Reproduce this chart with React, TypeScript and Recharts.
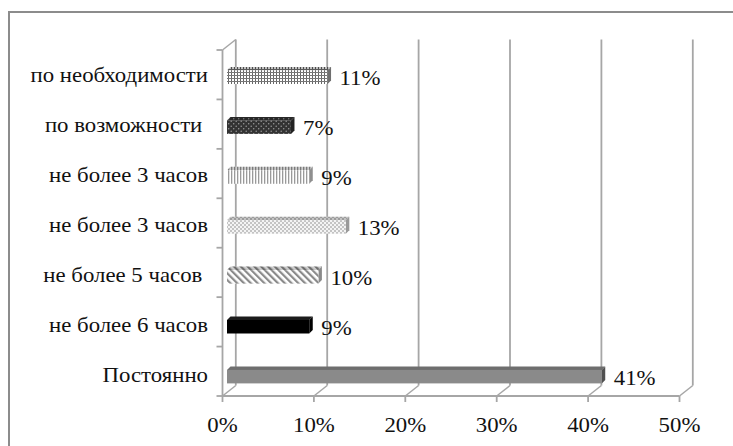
import React from 'react';
import { BarChart, Bar, XAxis, YAxis, CartesianGrid } from 'recharts';

// Answers and their shares, top to bottom
const categories = [
  'по необходимости',
  'по возможности ',
  'не более 3 часов',
  'не более 3 часов',
  'не более 5 часов ',
  'не более 6 часов',
  'Постоянно',
];
const shares = [11, 7, 9, 13, 10, 9, 41];
const xTicks = [0, 10, 20, 30, 40, 50];

const data = categories.map((name, i) => ({ name, share: shares[i] }));

// Layout
const W = 733;
const H = 446;
const PLOT = { left: 227, top: 52.5, width: 457, height: 349.3 };
// front edge of the 3D frame (walls/floor) and depth offset of the back wall
const FRONT = { left: 222.5, top: 50, bottom: 396 };
const DEPTH = { x: 13.3, y: -10.5 };
const FRONT_SHIFT = FRONT.left - PLOT.left;
const BAR_DEPTH = { x: 3.5, y: -3.5 };

const FONT = '"Liberation Serif", "Times New Roman", serif';
const FONT_SIZE = 20;
const STRETCH = 1.14; // glyphs are drawn slightly wide
const TEXT = '#111';
const FRAME = '#a6a6a6';

const barStyles = [
  { front: 'url(#pGrid)', top: 'url(#pGrid)', side: '#6f6f6f', shade: 0.25 },
  { front: 'url(#pDots)', top: 'url(#pDots)', side: '#222', shade: 0.2 },
  { front: 'url(#pVert)', top: 'url(#pVert)', side: '#8f8f8f', shade: 0.2 },
  { front: 'url(#pCheck)', top: 'url(#pCheck)', side: '#9a9a9a', shade: 0.2 },
  { front: 'url(#pDiag)', top: 'url(#pDiag)', side: '#8a8a8a', shade: 0.2 },
  { front: '#000', top: '#1c1c1c', side: '#000', shade: 0 },
  { front: '#8a8a8a', top: '#6e6e6e', side: '#505050', shade: 0 },
];

function Patterns() {
  return (
    <svg width={0} height={0} style={{ position: 'absolute' }}>
      <defs>
        <pattern id="pGrid" width="3" height="3" patternUnits="userSpaceOnUse">
          <rect width="3" height="3" fill="#fff" />
          <rect width="1" height="3" fill="#666" />
          <rect width="3" height="1" fill="#777" />
        </pattern>
        <pattern id="pDots" width="5" height="5" patternUnits="userSpaceOnUse">
          <rect width="5" height="5" fill="#333" />
          <circle cx="1.2" cy="1.2" r="0.75" fill="#9a9a9a" />
          <circle cx="3.7" cy="3.7" r="0.75" fill="#9a9a9a" />
        </pattern>
        <pattern id="pVert" width="3" height="3" patternUnits="userSpaceOnUse">
          <rect width="3" height="3" fill="#fff" />
          <rect width="1.3" height="3" fill="#9a9a9a" />
        </pattern>
        <pattern id="pCheck" width="4" height="4" patternUnits="userSpaceOnUse">
          <rect width="4" height="4" fill="#f4f4f4" />
          <rect width="2" height="2" fill="#c4c4c4" />
          <rect x="2" y="2" width="2" height="2" fill="#c4c4c4" />
        </pattern>
        <pattern id="pDiag" width="4.8" height="4.8" patternUnits="userSpaceOnUse" patternTransform="rotate(-45)">
          <rect width="4.8" height="4.8" fill="#fff" />
          <rect width="2.2" height="4.8" fill="#8a8a8a" />
        </pattern>
      </defs>
    </svg>
  );
}

// Text drawn at (x, y), vertically centred, slightly widened
function Label({ x, y, anchor, children }: any) {
  return (
    <text
      transform={`translate(${x},${y}) scale(${STRETCH},1)`}
      textAnchor={anchor}
      dominantBaseline="central"
      fontFamily={FONT}
      fontSize={FONT_SIZE}
      fill={TEXT}
      style={{ whiteSpace: 'pre' }}
    >
      {children}
    </text>
  );
}

// 3D bar: front face, top face and right side, plus the value label
function Bar3D(props: any) {
  const { x, y, width, height, index, payload } = props;
  const s = barStyles[index];
  const dx = BAR_DEPTH.x;
  const dy = BAR_DEPTH.y;
  const top = `${x},${y} ${x + dx},${y + dy} ${x + width + dx},${y + dy} ${x + width},${y}`;
  const side = `${x + width},${y} ${x + width + dx},${y + dy} ${x + width + dx},${y + height + dy} ${x + width},${y + height}`;
  return (
    <g>
      <polygon points={top} fill={s.top} />
      {s.shade > 0 && <polygon points={top} fill="#000" fillOpacity={s.shade} />}
      <polygon points={side} fill={s.side} />
      <rect x={x} y={y} width={width} height={height} fill={s.front} />
      <Label x={x + width + 12} y={y + height / 2 + 1.5} anchor="start">
        {`${payload.share}%`}
      </Label>
    </g>
  );
}

// back wall vertical lines and floor diagonals
function gridLine(p: any) {
  const fx = p.x1 + FRONT_SHIFT;
  const bx = fx + DEPTH.x;
  return (
    <g key={`g-${p.index}`}>
      <line x1={bx} y1={FRONT.top + DEPTH.y} x2={bx} y2={FRONT.bottom + DEPTH.y} stroke={FRAME} strokeWidth={1.8} />
      <line x1={fx} y1={FRONT.bottom} x2={bx} y2={FRONT.bottom + DEPTH.y} stroke={FRAME} strokeWidth={1.5} />
      {p.index === 0 && (
        <line x1={fx} y1={FRONT.top} x2={bx} y2={FRONT.top + DEPTH.y} stroke={FRAME} strokeWidth={1.5} />
      )}
    </g>
  );
}

function XTick(props: any) {
  const { x, payload, index } = props;
  const fx = x + FRONT_SHIFT;
  return (
    <g>
      {index === 0 && (
        <line x1={FRONT.left} y1={FRONT.bottom} x2={FRONT.left + PLOT.width} y2={FRONT.bottom} stroke={FRAME} strokeWidth={1.8} />
      )}
      <line x1={fx} y1={FRONT.bottom} x2={fx} y2={FRONT.bottom + 6} stroke={FRAME} strokeWidth={1.8} />
      <Label x={fx} y={425} anchor="middle">
        {`${payload.value}%`}
      </Label>
    </g>
  );
}

function YTick(props: any) {
  const { y, payload, index } = props;
  const n = categories.length;
  const step = (FRONT.bottom - FRONT.top) / n;
  const ty = FRONT.top + index * step;
  return (
    <g>
      {index === 0 && (
        <>
          <line x1={FRONT.left} y1={FRONT.top} x2={FRONT.left} y2={FRONT.bottom} stroke={FRAME} strokeWidth={1.8} />
          <line x1={FRONT.left - 6} y1={FRONT.bottom} x2={FRONT.left} y2={FRONT.bottom} stroke={FRAME} strokeWidth={1.8} />
        </>
      )}
      <line x1={FRONT.left - 6} y1={ty} x2={FRONT.left} y2={ty} stroke={FRAME} strokeWidth={1.8} />
      <Label x={208} y={y - 1.5} anchor="end">
        {payload.value}
      </Label>
    </g>
  );
}

export default function App() {
  return (
    <div style={{ position: 'absolute', left: 0, top: 0, width: W, height: H, overflow: 'hidden', background: '#fff' }}>
      <Patterns />
      <div
        style={{
          position: 'absolute',
          left: 8,
          top: 11,
          width: 900,
          height: 600,
          border: '2px solid #8c8c8c',
        }}
      />
      <div style={{ position: 'absolute', left: 0, top: 0 }}>
        <BarChart
          width={W}
          height={H}
          data={data}
          layout="vertical"
          margin={{ top: PLOT.top, right: W - PLOT.left - PLOT.width, bottom: 0, left: 0 }}
          barSize={13.5}
        >
          <CartesianGrid horizontal={false} vertical={gridLine} />
          <XAxis
            type="number"
            domain={[0, 50]}
            ticks={xTicks}
            axisLine={false}
            tickLine={false}
            height={H - PLOT.top - PLOT.height}
            tick={XTick}
            interval={0}
          />
          <YAxis
            type="category"
            dataKey="name"
            width={PLOT.left}
            axisLine={false}
            tickLine={false}
            tick={YTick}
            interval={0}
          />
          <Bar dataKey="share" shape={Bar3D} isAnimationActive={false} />
        </BarChart>
      </div>
    </div>
  );
}
